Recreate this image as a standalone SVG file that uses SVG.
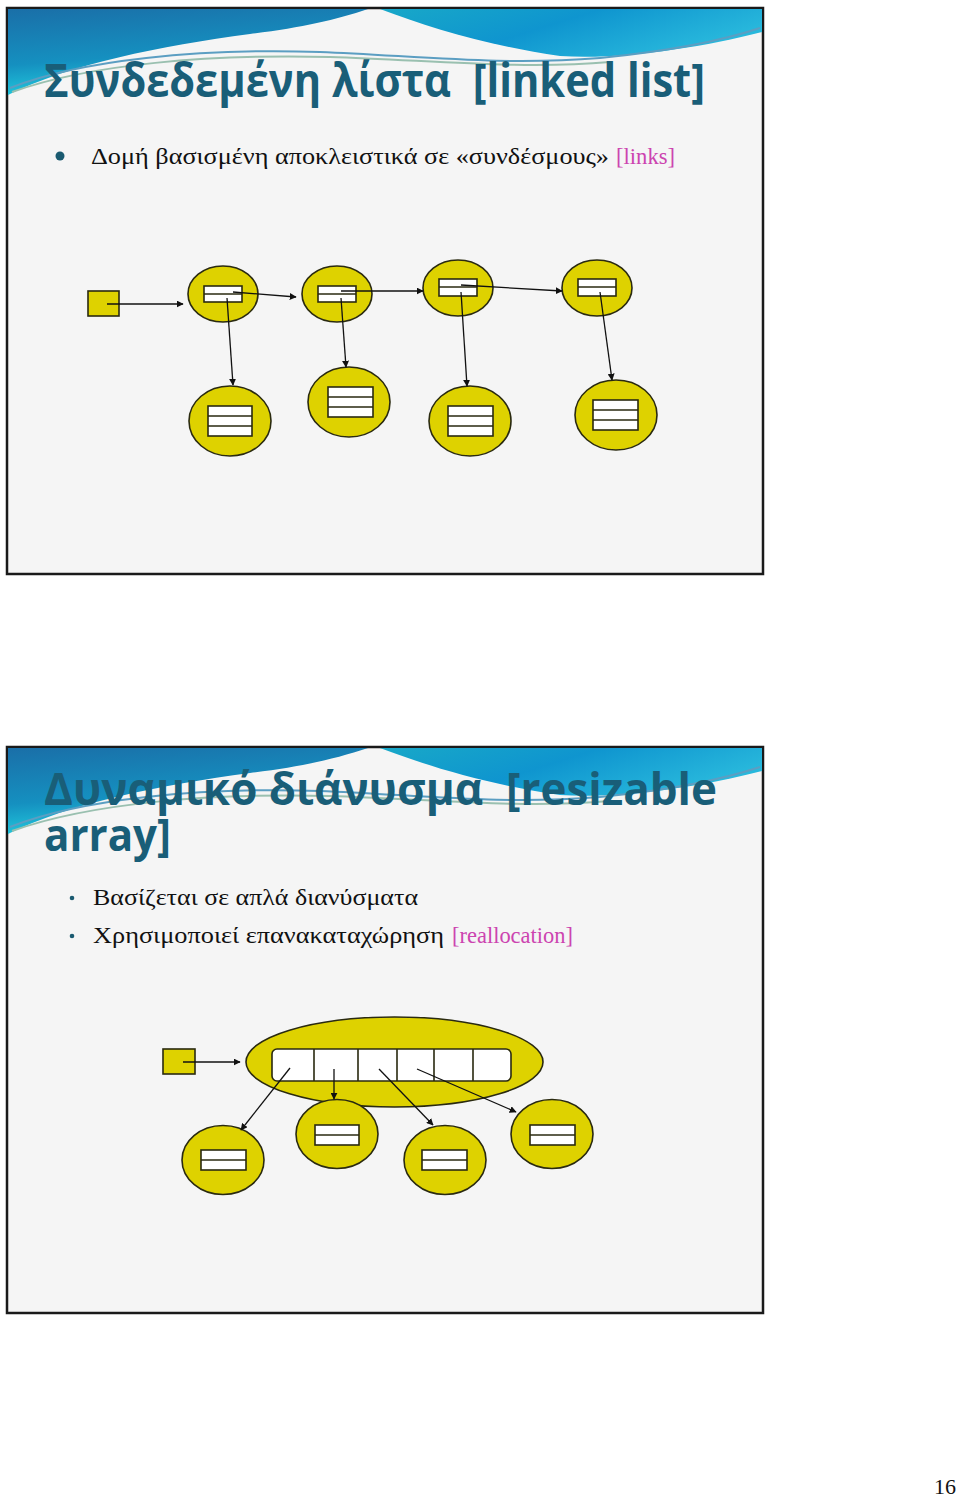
<svg xmlns="http://www.w3.org/2000/svg" width="960" height="1498" viewBox="0 0 960 1498">
<style>
.slide{fill:#f5f5f5;stroke:#1a1a1a;stroke-width:2.5}
.title{font-family:"Open Sans","Noto Sans",sans-serif;font-weight:bold;font-size:47px;fill:#195e78;white-space:pre}
.t2{font-size:44px}
.body{font-family:"Liberation Serif","DejaVu Serif",serif;font-size:24px;fill:#111}
.mag{fill:#cc44b0}
.y{fill:#ded200;stroke:#2a2a10;stroke-width:1.6}
.w{fill:#fff;stroke:#2a2a10;stroke-width:1.6}
.ln{stroke:#2a2a10;stroke-width:1.6;fill:none}
.c{stroke:#111;stroke-width:1.3;fill:none;marker-end:url(#ah)}
.wave{fill:none;stroke-width:2}
</style>
<defs>
<marker id="ah" viewBox="0 0 10 10" refX="9" refY="5" markerWidth="7" markerHeight="7" orient="auto" markerUnits="userSpaceOnUse">
<path d="M0,0 L10,5 L0,10 Z" fill="#111"/>
</marker>
<linearGradient id="gl" x1="0" y1="0" x2="0.3" y2="1">
<stop offset="0" stop-color="#1a6fa8"/>
<stop offset="0.6" stop-color="#1590c0"/>
<stop offset="1" stop-color="#22d0e0"/>
</linearGradient>
<linearGradient id="gr" x1="0" y1="0" x2="1" y2="0.4">
<stop offset="0" stop-color="#18a8c8"/>
<stop offset="0.5" stop-color="#0f95cf"/>
<stop offset="1" stop-color="#28b8dc"/>
</linearGradient>
<g id="hdr">
<path d="M8,9 H368 C335,20 300,28 250,34 C160,46 70,64 8,95 Z" fill="url(#gl)"/>
<path d="M380,9 H762 V32 C700,48 620,60 560,56 C490,46 430,28 380,9 Z" fill="url(#gr)"/>
<path class="wave" d="M10,88 C80,60 200,48 320,52 C420,56 500,66 600,58 C680,50 730,38 760,28" stroke="#5b9ec2"/>
<path class="wave" d="M12,92 C90,64 210,54 330,57 C430,60 520,70 610,62" stroke="#9ac0b0" stroke-width="1.2"/>
</g>
</defs>

<g id="slide1">
<rect class="slide" x="7" y="8" width="756" height="566"/>
<use href="#hdr"/>
<text class="title" xml:space="preserve" x="44" y="97" textLength="661" lengthAdjust="spacingAndGlyphs">Συνδεδεμένη λίστα  [linked list]</text>
<circle cx="60" cy="156" r="4.5" fill="#1a5a70"/>
<text class="body" x="91" y="164" textLength="518" lengthAdjust="spacingAndGlyphs">Δομή βασισμένη αποκλειστικά σε «συνδέσμους»</text>
<text class="body mag" x="616" y="164" textLength="59" lengthAdjust="spacingAndGlyphs">[links]</text>
</g>

<g id="head1"><rect class="y" x="88" y="291" width="31" height="25"/></g>
<g id="n1"><ellipse class="y" cx="223" cy="294" rx="35" ry="28"/><rect class="w" x="204" y="286" width="38" height="16"/><line class="ln" x1="204" y1="294" x2="242" y2="294"/></g>
<g id="n2"><ellipse class="y" cx="337" cy="294" rx="35" ry="28"/><rect class="w" x="318" y="286" width="38" height="16"/><line class="ln" x1="318" y1="294" x2="356" y2="294"/></g>
<g id="n3"><ellipse class="y" cx="458" cy="288" rx="35" ry="28"/><rect class="w" x="439" y="279" width="38" height="17"/><line class="ln" x1="439" y1="287" x2="477" y2="287"/></g>
<g id="n4"><ellipse class="y" cx="597" cy="288" rx="35" ry="28"/><rect class="w" x="578" y="279" width="38" height="17"/><line class="ln" x1="578" y1="287" x2="616" y2="287"/></g>
<g id="d1"><ellipse class="y" cx="230" cy="421" rx="41" ry="35"/><rect class="w" x="208" y="406" width="44" height="30"/><path class="ln" d="M208,416 H252 M208,426 H252"/></g>
<g id="d2"><ellipse class="y" cx="349" cy="402" rx="41" ry="35"/><rect class="w" x="328" y="387" width="45" height="30"/><path class="ln" d="M328,397 H373 M328,407 H373"/></g>
<g id="d3"><ellipse class="y" cx="470" cy="421" rx="41" ry="35"/><rect class="w" x="448" y="406" width="45" height="30"/><path class="ln" d="M448,416 H493 M448,426 H493"/></g>
<g id="d4"><ellipse class="y" cx="616" cy="415" rx="41" ry="35"/><rect class="w" x="593" y="400" width="45" height="30"/><path class="ln" d="M593,410 H638 M593,420 H638"/></g>

<g id="slide2">
<rect class="slide" x="7" y="747" width="756" height="566"/>
<use href="#hdr" transform="translate(0,739)"/>
<text class="title t2" xml:space="preserve" x="44" y="805" textLength="673" lengthAdjust="spacingAndGlyphs">Δυναμικό διάνυσμα  [resizable</text>
<text class="title t2" x="44" y="851" textLength="127" lengthAdjust="spacingAndGlyphs">array]</text>
<circle cx="72" cy="898" r="2.3" fill="#1a5a70"/>
<circle cx="72" cy="936" r="2.3" fill="#1a5a70"/>
<text class="body" x="93" y="905" textLength="325" lengthAdjust="spacingAndGlyphs">Βασίζεται σε απλά διανύσματα</text>
<text class="body" x="93" y="943" textLength="351" lengthAdjust="spacingAndGlyphs">Χρησιμοποιεί επανακαταχώρηση</text>
<text class="body mag" x="452" y="943" textLength="121" lengthAdjust="spacingAndGlyphs">[reallocation]</text>
</g>

<g id="head2"><rect class="y" x="163" y="1049" width="32" height="25"/></g>
<g id="arr"><ellipse class="y" cx="394.5" cy="1062" rx="148.5" ry="45"/><rect class="w" x="272" y="1049" width="239" height="32" rx="5"/><path class="ln" d="M314,1049 V1081 M358,1049 V1081 M397,1049 V1081 M434,1049 V1081 M473,1049 V1081"/></g>
<g id="e1"><ellipse class="y" cx="223" cy="1160" rx="41" ry="34.5"/><rect class="w" x="201" y="1150" width="45" height="20"/><line class="ln" x1="201" y1="1160" x2="246" y2="1160"/></g>
<g id="e2"><ellipse class="y" cx="337" cy="1134" rx="41" ry="34.5"/><rect class="w" x="315" y="1125" width="44" height="20"/><line class="ln" x1="315" y1="1135" x2="359" y2="1135"/></g>
<g id="e3"><ellipse class="y" cx="445" cy="1160" rx="41" ry="34.5"/><rect class="w" x="422" y="1150" width="45" height="20"/><line class="ln" x1="422" y1="1160" x2="467" y2="1160"/></g>
<g id="e4"><ellipse class="y" cx="552" cy="1134" rx="41" ry="34.5"/><rect class="w" x="530" y="1125" width="45" height="20"/><line class="ln" x1="530" y1="1135" x2="575" y2="1135"/></g>

<g id="connectors">
<line class="c" x1="107" y1="304" x2="183" y2="304"/>
<line class="c" x1="233" y1="292" x2="296" y2="297"/>
<line class="c" x1="341" y1="291" x2="423" y2="291"/>
<line class="c" x1="461" y1="285" x2="562" y2="291"/>
<line class="c" x1="227" y1="298" x2="233" y2="385"/>
<line class="c" x1="341" y1="298" x2="346" y2="367"/>
<line class="c" x1="461" y1="292" x2="467" y2="386"/>
<line class="c" x1="600" y1="292" x2="612" y2="380"/>
<line class="c" x1="183" y1="1062" x2="240" y2="1062"/>
<line class="c" x1="290" y1="1068" x2="241" y2="1130"/>
<line class="c" x1="334" y1="1069" x2="334" y2="1099"/>
<line class="c" x1="379" y1="1069" x2="433" y2="1125"/>
<line class="c" x1="417" y1="1069" x2="516" y2="1112"/>
</g>

<text x="956" y="1494" text-anchor="end" font-family="Liberation Serif, serif" font-size="22" fill="#111">16</text>
</svg>
